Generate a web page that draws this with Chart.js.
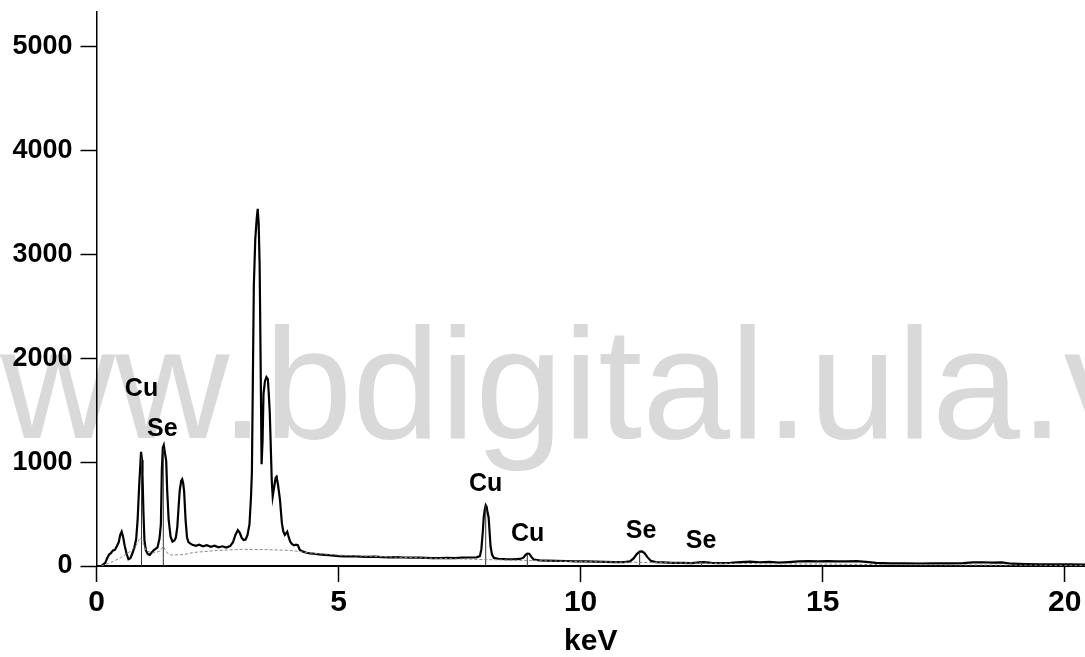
<!DOCTYPE html>
<html>
<head>
<meta charset="utf-8">
<script src="https://cdn.jsdelivr.net/npm/chart.js@4.4.1/dist/chart.umd.min.js"></script>
<style>
  html, body { margin: 0; padding: 0; background: #fff; overflow: hidden; }
  #wrap { position: relative; width: 1085px; height: 657px; }
</style>
</head>
<body>
<div id="wrap"><canvas id="c" width="1085" height="657"></canvas></div>
<script>
// EDS spectrum: energy (keV) and counts of the measured trace
const energy = [
  0.00, 0.10, 0.14, 0.18, 0.22, 0.26, 0.30, 0.34, 0.38, 0.42, 0.46, 0.49, 0.52, 0.55, 0.58, 0.62, 0.66, 0.70,
  0.74, 0.78, 0.82, 0.85, 0.88, 0.90, 0.92, 0.94, 0.95, 0.97, 0.99, 1.02, 1.06, 1.10, 1.14, 1.18, 1.22, 1.26,
  1.30, 1.33, 1.35, 1.37, 1.39, 1.41, 1.44, 1.46, 1.49, 1.53, 1.57, 1.61, 1.64, 1.67, 1.70, 1.72, 1.75, 1.77,
  1.79, 1.81, 1.84, 1.87, 1.90, 1.94, 1.98, 2.05, 2.12, 2.20, 2.28, 2.36, 2.44, 2.52, 2.60, 2.68, 2.76, 2.82,
  2.87, 2.92, 2.96, 3.00, 3.04, 3.08, 3.12, 3.16, 3.19, 3.21, 3.23, 3.25, 3.28, 3.31, 3.33, 3.35, 3.37, 3.38,
  3.40, 3.41, 3.43, 3.45, 3.48, 3.51, 3.54, 3.56, 3.58, 3.60, 3.62, 3.64, 3.67, 3.70, 3.72, 3.75, 3.79, 3.83,
  3.86, 3.89, 3.94, 3.97, 4.00, 4.04, 4.08, 4.12, 4.16, 4.20, 4.27, 4.34, 4.41, 4.50, 4.60, 4.70, 4.80, 4.90,
  5.00, 5.15, 5.30, 5.45, 5.60, 5.75, 5.90, 6.05, 6.20, 6.35, 6.50, 6.65, 6.80, 6.95, 7.10, 7.25, 7.40, 7.55,
  7.70, 7.85, 7.92, 7.95, 7.98, 8.00, 8.02, 8.04, 8.06, 8.08, 8.10, 8.12, 8.14, 8.17, 8.21, 8.30, 8.45, 8.60,
  8.75, 8.82, 8.86, 8.90, 8.94, 8.98, 9.03, 9.15, 9.30, 9.50, 9.70, 9.90, 10.10, 10.30, 10.50, 10.70, 10.90, 11.02,
  11.10, 11.16, 11.22, 11.27, 11.32, 11.38, 11.45, 11.55, 11.70, 11.90, 12.10, 12.30, 12.45, 12.55, 12.70, 12.90, 13.10, 13.30,
  13.50, 13.70, 13.90, 14.10, 14.30, 14.50, 14.70, 14.90, 15.10, 15.30, 15.50, 15.70, 15.90, 16.10, 16.40, 16.70, 17.00, 17.30,
  17.60, 17.90, 18.10, 18.30, 18.50, 18.70, 18.90, 19.20, 19.50, 19.80, 20.10, 20.42
];
const counts = [
  0, 0, 15, 30, 75, 110, 125, 150, 155, 190, 230, 300, 330, 280, 200, 120, 65, 75,
  120, 175, 260, 450, 760, 930, 1100, 1020, 880, 510, 250, 150, 115, 106, 130, 150, 165, 180,
  260, 400, 930, 1140, 1165, 1100, 1010, 730, 450, 282, 235, 245, 275, 380, 600, 730, 820, 835,
  800, 720, 445, 275, 230, 215, 205, 195, 205, 190, 200, 185, 195, 180, 190, 178, 192, 230,
  300, 345, 320, 270, 250, 255, 300, 400, 650, 900, 1800, 2700, 3150, 3350, 3440, 3300, 2900, 2450,
  1500, 980, 1200, 1660, 1780, 1820, 1800, 1650, 1470, 1150, 830, 670, 760, 850, 860, 780, 640, 410,
  330, 300, 330, 280, 235, 210, 200, 205, 200, 155, 138, 128, 122, 118, 112, 108, 104, 100,
  96, 92, 94, 90, 88, 90, 85, 84, 86, 82, 80, 81, 78, 76, 75, 78, 76, 80,
  82, 84, 95, 160, 330, 475, 540, 585, 570, 510, 470, 330, 190, 110, 78, 70, 66, 65,
  68, 80, 105, 120, 118, 90, 62, 55, 52, 50, 48, 45, 44, 42, 40, 38, 37, 45,
  75, 115, 138, 140, 125, 85, 50, 38, 34, 30, 30, 28, 35, 38, 30, 28, 30, 38,
  42, 36, 40, 32, 38, 45, 46, 44, 46, 45, 44, 46, 40, 30, 26, 25, 24, 26,
  25, 27, 34, 36, 33, 34, 22, 18, 17, 16, 15, 14
];

// Fitted background under the spectrum
const bgEnergy = [0.10, 0.30, 0.50, 0.70, 0.82, 0.90, 0.95, 1.02, 1.15, 1.30, 1.38, 1.45, 1.55, 1.80, 2.00, 2.50, 3.00, 3.50,
  4.00, 4.50, 5.00, 6.00, 7.00, 8.00, 9.00, 10.00, 11.00, 12.00, 13.00, 14.00, 15.00, 16.00, 17.00, 18.00, 19.00, 20.42];
const bgCounts = [0, 35, 80, 140, 200, 270, 240, 150, 125, 140, 190, 130, 105, 110, 130, 150, 160, 158,
  150, 122, 105, 88, 74, 62, 52, 43, 36, 30, 25, 21, 18, 15, 12, 10, 8, 6];

// Element line markers (energy, height) and their labels
const lineEnergy = [0.93, 1.38, 8.04, 8.90, 11.22, 12.50];
const lineTop = [1050, 1130, 585, 118, 138, 36];
const labelText = ['Cu', 'Se', 'Cu', 'Cu', 'Se', 'Se'];
const labelEnergy = [0.93, 1.36, 8.04, 8.905, 11.25, 12.49];
const labelCounts = [1704, 1319, 790, 303, 337, 236];

const xTicks = [0, 5, 10, 15, 20];
const yTicks = [0, 1000, 2000, 3000, 4000, 5000];
const xTitle = 'keV';
const watermark = 'www.bdigital.ula.ve';

const spectrum = energy.map((e, i) => ({ x: e, y: counts[i] }));
const background = bgEnergy.map((e, i) => ({ x: e, y: bgCounts[i] }));
const markers = [];
lineEnergy.forEach((e, i) => {
  markers.push({ x: e, y: 0 }, { x: e, y: lineTop[i] }, { x: e, y: null });
});

const watermarkPlugin = {
  id: 'watermark',
  beforeDraw(chart) {
    const ctx = chart.ctx;
    ctx.save();
    ctx.fillStyle = '#fff';
    ctx.fillRect(0, 0, chart.width, chart.height);
    ctx.font = '158px "Liberation Sans", Arial, sans-serif';
    ctx.fillStyle = '#d9d9d9';
    ctx.textBaseline = 'alphabetic';
    ctx.textAlign = 'left';
    ctx.fillText(watermark, -113, 438);
    ctx.restore();
  }
};

const labelPlugin = {
  id: 'peakLabels',
  afterDatasetsDraw(chart) {
    const { ctx, scales: { x, y } } = chart;
    ctx.save();
    ctx.font = 'bold 25px "Liberation Sans", Arial, sans-serif';
    ctx.fillStyle = '#000';
    ctx.textAlign = 'center';
    ctx.textBaseline = 'middle';
    labelText.forEach((t, i) => {
      ctx.fillText(t, x.getPixelForValue(labelEnergy[i]), y.getPixelForValue(labelCounts[i]));
    });
    ctx.restore();
  }
};

const noPad = s => { s.paddingTop = 0; s.paddingBottom = 0; s.paddingLeft = 0; s.paddingRight = 0; };

new Chart(document.getElementById('c'), {
  type: 'scatter',
  data: {
    datasets: [
      { data: background, showLine: true, borderColor: '#8a8a8a', borderWidth: 1, borderDash: [3, 2],
        pointRadius: 0, tension: 0 },
      { data: markers, showLine: true, borderColor: '#333', borderWidth: 1, pointRadius: 0, spanGaps: false },
      { data: spectrum, showLine: true, borderColor: '#000', borderWidth: 2.2, pointRadius: 0, tension: 0 }
    ]
  },
  options: {
    responsive: false,
    animation: false,
    events: [],
    layout: { padding: { top: 12, left: 0, right: 0, bottom: 0 } },
    plugins: { legend: { display: false }, tooltip: { enabled: false } },
    scales: {
      x: {
        type: 'linear', min: 0, max: 20.42,
        afterBuildTicks: s => { s.ticks = xTicks.map(v => ({ value: v })); },
        afterFit: s => { s.height = 91; noPad(s); },
        grid: { drawOnChartArea: false, drawTicks: true, tickLength: 16, tickColor: '#000', tickWidth: 1.5 },
        border: { display: true, color: '#000', width: 2 },
        ticks: { color: '#000', padding: 6, maxRotation: 0, callback: v => String(v),
          font: { family: '"Liberation Sans", Arial, sans-serif', weight: 'bold', size: 30, lineHeight: 1 } },
        title: { display: true, text: xTitle, color: '#000', padding: { top: 0, bottom: 0 },
          font: { family: '"Liberation Sans", Arial, sans-serif', weight: 'bold', size: 30, lineHeight: 1 } }
      },
      y: {
        type: 'linear', min: 0, max: 5337,
        afterBuildTicks: s => { s.ticks = yTicks.map(v => ({ value: v })); },
        afterFit: s => { s.width = 96.5; noPad(s); },
        grid: { drawOnChartArea: false, drawTicks: true, tickLength: 16, tickColor: '#000', tickWidth: 1.5 },
        border: { display: true, color: '#000', width: 1.5 },
        ticks: { color: '#000', padding: 8, callback: v => String(v),
          font: { family: '"Liberation Sans", Arial, sans-serif', weight: 'bold', size: 27 } }
      }
    }
  },
  plugins: [watermarkPlugin, labelPlugin]
});
</script>
</body>
</html>
